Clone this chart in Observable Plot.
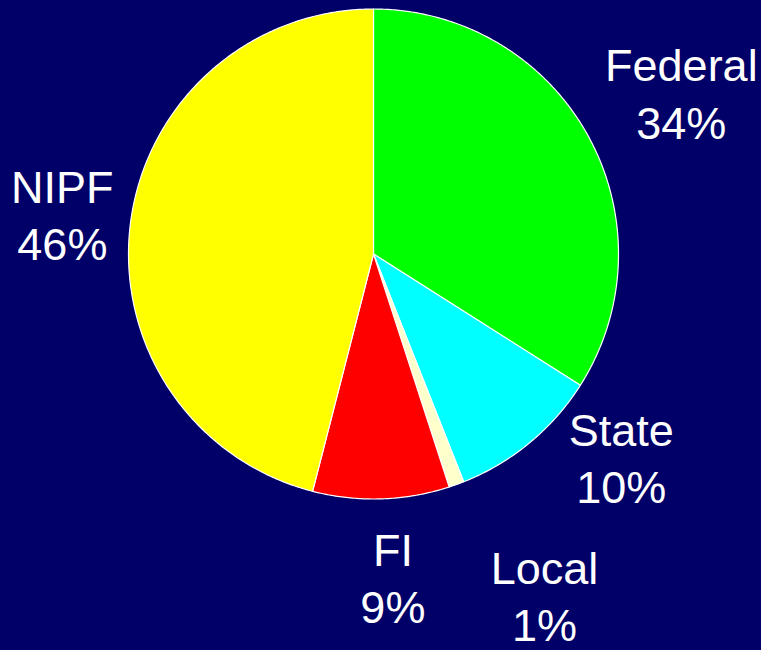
<!DOCTYPE html>
<html>
<head>
<meta charset="utf-8">
<script src="https://cdn.jsdelivr.net/npm/d3@7"></script>
<script src="https://cdn.jsdelivr.net/npm/@observablehq/plot@0.6"></script>
<style>
  html, body { margin: 0; padding: 0; background: #000068; }
  #chart svg { display: block; }
</style>
</head>
<body>
<div id="chart"></div>
<script>
// ---- data ----
const categories = ["Federal", "State", "Local", "FI", "NIPF"];
const shares = [34, 10, 1, 9, 46];
const sliceColors = ["#00ff00", "#00ffff", "#ffffcc", "#ff0000", "#ffff00"];

const rows = categories.map((c, i) => ({category: c, share: shares[i]}));
const arcs = d3.pie().sort(null).value(d => d.share)(rows);

// slice outlines in unit coordinates (angle clockwise from 12 o'clock)
const polar = (a, r) => [r * Math.sin(a), r * Math.cos(a)];
const slicePoints = arcs.flatMap(a => {
  const n = Math.max(2, Math.ceil((a.endAngle - a.startAngle) / (Math.PI / 360)));
  const pts = [[0, 0]];
  for (let k = 0; k <= n; ++k) pts.push(polar(a.startAngle + (a.endAngle - a.startAngle) * k / n, 1));
  pts.push([0, 0]);
  return pts.map(([x, y]) => ({category: a.data.category, x, y}));
});

const labelR = 1.35;
const labels = arcs.map(a => {
  const m = (a.startAngle + a.endAngle) / 2;
  const [x, y] = polar(m, labelR);
  return {category: a.data.category, text: `${a.data.category}\n${a.data.share}%`, x, y};
});

// per-label nudges (pixels)
const nudge = {Federal: [18, -3], State: [37, -53], Local: [59, 29], FI: [9, -8], NIPF: [17, 1]};

const textMarks = labels.map(l => Plot.text([l], {
  x: "x", y: "y", text: "text",
  fill: "white", fontSize: 45, fontFamily: "Liberation Sans, Arial, sans-serif",
  lineHeight: 1.27, textAnchor: "middle", lineAnchor: "middle",
  dx: nudge[l.category][0], dy: nudge[l.category][1]
}));

const chart = Plot.plot({
  width: 761,
  height: 650,
  marginLeft: 128,
  marginRight: 143,
  marginTop: 8.5,
  marginBottom: 151.5,
  style: {background: "#000068", overflow: "visible"},
  x: {domain: [-1, 1], axis: null},
  y: {domain: [-1, 1], axis: null},
  color: {type: "ordinal", domain: categories, range: sliceColors},
  marks: [
    Plot.line(slicePoints, {x: "x", y: "y", z: "category", fill: "category",
      stroke: "white", strokeWidth: 1.2, strokeLinejoin: "round"}),
    ...textMarks
  ]
});
document.getElementById("chart").appendChild(chart);
</script>
</body>
</html>
